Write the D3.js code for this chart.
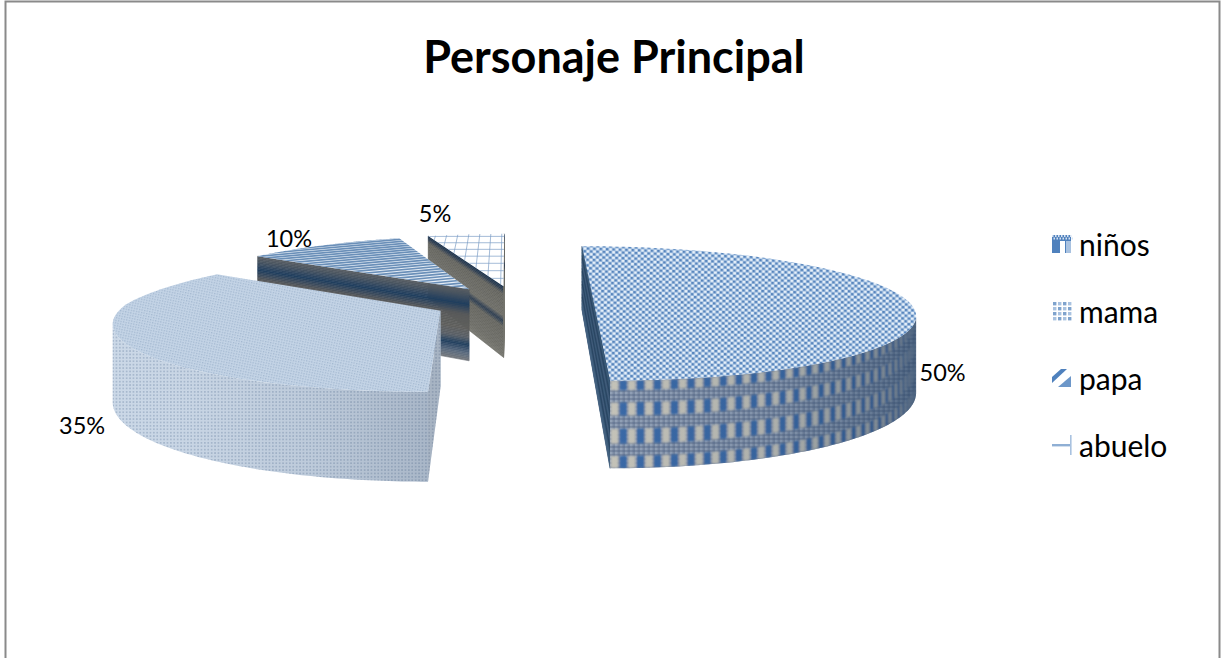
<!DOCTYPE html>
<html>
<head>
<meta charset="utf-8">
<title>Personaje Principal</title>
<style>
  html, body { margin: 0; padding: 0; background: #fff; }
  svg { display: block; }
  text { font-family: Lato, "Open Sans", sans-serif; fill: #000; }
</style>
</head>
<body>
<script src="https://d3js.org/d3.v7.min.js"></script>
<script>
var titleText = "Personaje Principal";
var categories = ["niños", "mama", "papa", "abuelo"];
var values = [50, 35, 10, 5];
var explosions = [0.245, 0.265, 0.265, 0.265];

var width = 1222, height = 658;

// camera fitted to the reference: vanishing point, focal, heights of top and base
var cam = {vx: 507, horizon: -114, f: 2010, dist: 6.35, top: 2653, base: 3124};
var shiftX = 0.03, shiftZ = 0.015, backLeftSqueeze = 0.06;

var pie = d3.pie().sort(null).value(function (d) { return d; })
    .startAngle(0).endAngle(2 * Math.PI);
var slices = pie(values);

function place(s, a, r) {
  var mid = (s.startAngle + s.endAngle) / 2;
  var explode = explosions[s.index];
  return {
    X: shiftX + explode * Math.sin(mid) + r * Math.sin(a),
    Z: shiftZ + explode * Math.cos(mid) + r * Math.cos(a)
  };
}
function project(w, v) {
  var D = cam.dist + w.Z;
  var X = w.X;
  // the back left of the original renders a little tighter than true perspective
  if (X < 0 && w.Z > 0) X *= 1 - backLeftSqueeze * w.Z;
  return [cam.vx + cam.f * X / D, cam.horizon + (cam.top + (cam.base - cam.top) * v) / D];
}
function facing(nx, nz, w) {
  return nx * (0 - w.X) + nz * (-cam.dist - w.Z) > 0;
}
function rimPts(s, a0, a1, v, n) {
  return d3.range(n + 1).map(function (i) {
    return project(place(s, a0 + (a1 - a0) * i / n, 1), v);
  });
}
var line = d3.line();

var svg = d3.select("body").append("svg").attr("width", width).attr("height", height);
var defs = svg.append("defs");

defs.append("filter").attr("id", "soft").append("feGaussianBlur").attr("stdDeviation", 0.8);

function pattern(id, w, h, bg, rects, tf) {
  var p = defs.append("pattern").attr("id", id).attr("patternUnits", "userSpaceOnUse")
      .attr("width", w).attr("height", h);
  if (tf) p.attr("patternTransform", tf);
  p.append("rect").attr("width", w).attr("height", h).attr("fill", bg);
  rects.forEach(function (r) {
    p.append("rect").attr("x", r[0]).attr("y", r[1]).attr("width", r[2]).attr("height", r[3]).attr("fill", r[4]);
  });
}
pattern("checkTop", 6.4, 5.6, "#9ab9dd", [
  [0, 0, 2.6, 2.3, "#e8f1fa"], [3.2, 0, 2.2, 2, "#5583bb"],
  [3.2, 2.8, 2.6, 2.3, "#e8f1fa"], [0, 2.8, 2.2, 2, "#5583bb"]
], "rotate(2)");
pattern("checkBand", 5, 4, "#7c8ba3", [[0, 0, 2.5, 2, "#93a2b8"], [2.5, 2, 2.5, 2, "#6b7c98"]]);
pattern("dotTop", 2.6, 2.6, "#c4d4e6", [[0, 0, 1.3, 1.3, "#a4b9d1"]], "rotate(12)");
pattern("dotRim", 3.4, 3.4, "#cbd8e7", [[0, 0, 1.7, 1.7, "#a8b9ce"]]);

function gradient(id, p0, p1, stops) {
  var g = defs.append("linearGradient").attr("id", id).attr("gradientUnits", "userSpaceOnUse")
      .attr("x1", p0[0]).attr("y1", p0[1]).attr("x2", p1[0]).attr("y2", p1[1]);
  stops.forEach(function (t) {
    g.append("stop").attr("offset", t[0]).attr("stop-color", t[1]).attr("stop-opacity", t[2]);
  });
}

var sideRamps = [
  d3.scaleLinear().domain([0, .1, .2, .3, .4, .5, .6, .7, .8, .9, 1])
    .range(["#26425f", "#41607e", "#26425f", "#466280", "#26425f", "#41607e", "#26425f", "#466280", "#26425f", "#41607e", "#466280"]),
  null,
  d3.scaleLinear().domain([0, .08, .22, .36, .55, .68, .78, .9, 1])
    .range(["#5c5f63", "#4a5560", "#1f3d5e", "#57595a", "#5f5f5c", "#5a6068", "#22405f", "#5a6a7e", "#74777c"]),
  d3.scaleLinear().domain([0, .05, .12, .42, .5, .58, .9, 1])
    .range(["#1f3550", "#2b3c50", "#666660", "#6e6e68", "#2b3c50", "#666660", "#6e6e68", "#777770"])
];

function sideFace(g, s, i, a) {
  var inner = place(s, a, 0), outer = place(s, a, 1);
  var ramp = sideRamps[i];
  if (!ramp) {
    var quad = line([project(inner, 0), project(outer, 0), project(outer, 1), project(inner, 1)]) + "Z";
    g.append("path").attr("d", quad).attr("fill", "url(#dotRim)");
    g.append("path").attr("d", quad).attr("fill", "#55606f").attr("opacity", 0.3);
    return;
  }
  var n = 44;
  d3.range(n).forEach(function (k) {
    var c = ramp((k + 0.5) / n);
    g.append("path")
        .attr("d", line([project(inner, k / n), project(outer, k / n), project(outer, (k + 1) / n), project(inner, (k + 1) / n)]) + "Z")
        .attr("fill", c).attr("stroke", c).attr("stroke-width", 0.6);
  });
}

// visible angular range of the outer wall, from sampling the normal
function visibleRim(s) {
  var n = 180, seen = [];
  d3.range(n + 1).forEach(function (i) {
    var a = s.startAngle + (s.endAngle - s.startAngle) * i / n;
    if (facing(Math.sin(a), Math.cos(a), place(s, a, 1))) seen.push(a);
  });
  return seen.length > 1 ? [seen[0], seen[seen.length - 1]] : null;
}

function wallPath(s, a0, a1) {
  var top = rimPts(s, a0, a1, 0, 80), bot = rimPts(s, a0, a1, 1, 80).reverse();
  return line(top.concat(bot)) + "Z";
}

function drawNinosWall(g, s, range) {
  var a0 = range[0], a1 = range[1];
  g.append("path").attr("d", wallPath(s, a0, a1)).attr("fill", "url(#checkBand)");
  defs.append("clipPath").attr("id", "clipWall").append("path").attr("d", wallPath(s, a0, a1));
  var bars = g.append("g").attr("clip-path", "url(#clipWall)").append("g").attr("filter", "url(#soft)");
  var step = 2.65 * Math.PI / 180;
  var rows = [[0, .11], [.25, .4], [.55, .72], [.86, 1]];
  var count = Math.ceil((a1 - a0) / step);
  d3.range(count).forEach(function (c) {
    var start = a1 - (c + 1) * step;
    [[0.02, 0.46, "#3b6ba8"], [0.52, 0.96, "#c7c5ba"]].forEach(function (bar) {
      rows.forEach(function (r) {
        var p0 = place(s, start + bar[0] * step, 1), p1 = place(s, start + bar[1] * step, 1);
        bars.append("path")
            .attr("d", line([project(p0, r[0]), project(p1, r[0]), project(p1, r[1]), project(p0, r[1])]) + "Z")
            .attr("fill", bar[2]);
      });
    });
  });
  var left = project(place(s, a1, 1), 0), right = project(place(s, a0, 1), 0);
  gradient("ninosShade", [left[0], 0], [right[0], 0], [
    [0, "#1d3a5c", 0.02], [0.55, "#1d3a5c", 0.16], [0.9, "#1d3a5c", 0.42], [1, "#1d3a5c", 0.55]
  ]);
  g.append("path").attr("d", wallPath(s, a0, a1)).attr("fill", "url(#ninosShade)");
}

function drawMamaWall(g, s, range) {
  var a0 = range[0], a1 = range[1];
  g.append("path").attr("d", wallPath(s, a0, a1)).attr("fill", "url(#dotRim)");
  var right = project(place(s, a0, 1), 0), left = project(place(s, a1, 1), 0);
  gradient("mamaShade", [left[0], 0], [right[0], 0], [
    [0, "#3c4c64", 0], [0.25, "#3c4c64", 0.02], [0.65, "#3c4c64", 0.1], [1, "#3c4c64", 0.24]
  ]);
  g.append("path").attr("d", wallPath(s, a0, a1)).attr("fill", "url(#mamaShade)");
}

var topFills = ["url(#checkTop)", "url(#dotTop)", "#e4ecf5", "#ffffff"];

function topOutline(s) {
  var apex = project(place(s, 0, 0), 0);
  return line([apex].concat(rimPts(s, s.startAngle, s.endAngle, 0, 120))) + "Z";
}

// world-space line texture, so that it converges with the perspective
function papaStripes(g, s) {
  d3.range(-2.6, 1.6, 0.048).forEach(function (t) {
    var w0 = {X: -1.6, Z: t}, w1 = {X: 0.3, Z: t + 0.95};
    g.append("line")
        .attr("x1", project(w0, 0)[0]).attr("y1", project(w0, 0)[1])
        .attr("x2", project(w1, 0)[0]).attr("y2", project(w1, 0)[1])
        .attr("stroke", "#6a8fb8").attr("stroke-width", 1.7);
  });
}
function abueloGrid(g, s) {
  var c = place(s, 0, 0);
  d3.range(-1, 0.4, 0.045).forEach(function (x) {
    var a = project({X: c.X + x, Z: c.Z}, 0), b = project({X: c.X + x, Z: c.Z + 1.2}, 0);
    g.append("line").attr("x1", a[0]).attr("y1", a[1]).attr("x2", b[0]).attr("y2", b[1])
        .attr("stroke", "#7d9ec6").attr("stroke-width", 0.7);
  });
  d3.range(0, 1.2, 0.135).forEach(function (z) {
    var a = project({X: c.X - 1, Z: c.Z + z}, 0), b = project({X: c.X + 0.4, Z: c.Z + z}, 0);
    g.append("line").attr("x1", a[0]).attr("y1", a[1]).attr("x2", b[0]).attr("y2", b[1])
        .attr("stroke", "#7d9ec6").attr("stroke-width", 0.7);
  });
}

// back to front
[3, 2, 1, 0].forEach(function (i) {
  var s = slices[i];
  var g = svg.append("g").attr("class", "slice-" + categories[i]);

  var n0 = s.startAngle - Math.PI / 2, n1 = s.endAngle + Math.PI / 2;
  var apex = place(s, 0, 0);
  if (i !== 0 && facing(Math.sin(n0), Math.cos(n0), apex)) sideFace(g, s, i, s.startAngle);
  if (i !== 0 && facing(Math.sin(n1), Math.cos(n1), apex)) sideFace(g, s, i, s.endAngle);
  if (i === 0) {
    var inner0 = place(s, s.startAngle, 1), inner1 = place(s, s.endAngle, 1);
    var ramp = sideRamps[0];
    d3.range(44).forEach(function (k) {
      var c = ramp((k + 0.5) / 44);
      g.append("path")
          .attr("d", line([project(inner0, k / 44), project(inner1, k / 44), project(inner1, (k + 1) / 44), project(inner0, (k + 1) / 44)]) + "Z")
          .attr("fill", c).attr("stroke", c).attr("stroke-width", 0.6);
    });
  }

  var range = visibleRim(s);
  if (range && i === 0) drawNinosWall(g, s, range);
  if (range && i === 1) drawMamaWall(g, s, range);

  var d = topOutline(s);
  g.append("path").attr("d", d).attr("fill", topFills[i]);
  if (i >= 2) {
    defs.append("clipPath").attr("id", "clipTop" + i).append("path").attr("d", d);
    var tex = g.append("g").attr("clip-path", "url(#clipTop" + i + ")");
    if (i === 2) papaStripes(tex, s); else abueloGrid(tex, s);
  }
});

svg.append("text").attr("x", 614).attr("y", 73).attr("text-anchor", "middle")
    .attr("font-size", 45).attr("font-weight", 700).text(titleText);

// labels: projected from the middle of each rim, then nudged as in the reference
var labelNudge = [[33, 69], [-44, 81], [-36, -7], [-31, -21]];
slices.forEach(function (s, i) {
  var mid = (s.startAngle + s.endAngle) / 2;
  var p = project(place(s, mid, 1), 0);
  svg.append("text").attr("x", p[0] + labelNudge[i][0]).attr("y", p[1] + labelNudge[i][1])
      .attr("text-anchor", "middle").attr("dominant-baseline", "central")
      .attr("font-size", 23.5).text(d3.format("d")(s.value) + "%");
});

// legend
var legendY = d3.scalePoint().domain(categories).range([244, 445]);
var legend = svg.selectAll("g.legend").data(categories).enter().append("g")
    .attr("class", "legend")
    .attr("transform", function (d) { return "translate(1052," + legendY(d) + ")"; });
legend.append("text").attr("x", 27).attr("y", 0).attr("dominant-baseline", "central")
    .attr("font-size", 30).text(function (d) { return d; });

var bl = "#4f81bd";
function box(g, x, y, w, h, c) {
  g.append("rect").attr("x", x).attr("y", y).attr("width", w).attr("height", h).attr("fill", c);
}
var swatches = [
  function (g) {
    box(g, 0, -9, 19, 18, bl); box(g, 8, -3, 5, 12, "#fff"); box(g, 14, -3, 5, 12, "#a9c2e0");
    d3.range(0, 19, 3).forEach(function (x) { box(g, x, -9, 1.5, 2, "#d5e2f2"); box(g, x + 1.5, -6.5, 1.5, 2, "#d5e2f2"); });
  },
  function (g) {
    d3.range(0, 4).forEach(function (r) {
      d3.range(0, 4).forEach(function (c) {
        box(g, 1 + c * 5, -9 + r * 5, 3.4, 3.4, (r + c) % 2 ? "#a9c2e0" : "#7fa3cd");
      });
    });
  },
  function (g) {
    g.append("path").attr("d", "M0,-1L9,-9L15,-9L0,5Z").attr("fill", bl);
    g.append("path").attr("d", "M19,-2L19,9L6,9Z").attr("fill", "#6d97c9");
  },
  function (g) {
    box(g, 0, -1, 19, 2.4, "#8fafd4"); box(g, 18, -10, 1.6, 20, "#a9c2e0");
  }
];
legend.each(function (d, i) { swatches[i](d3.select(this)); });

// chart frame, open at the bottom
svg.append("path").attr("d", d3.line()([[5.5, height], [5.5, 1.5], [1219.5, 1.5], [1219.5, height]]))
    .attr("fill", "none").attr("stroke", "#8a8a8a").attr("stroke-width", 2);
</script>
</body>
</html>
